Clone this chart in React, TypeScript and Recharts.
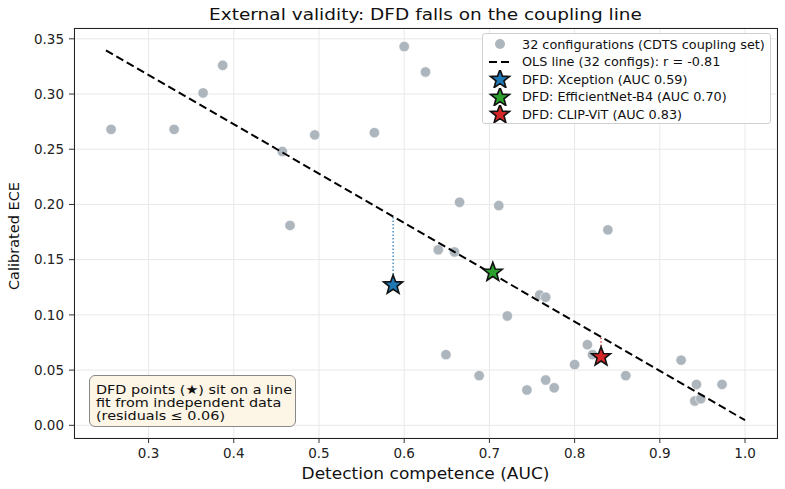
import React from "react";
import { ScatterChart, Scatter, XAxis, YAxis, CartesianGrid, ReferenceLine } from "recharts";

// 32 configurations (CDTS coupling set)
const configAuc = [
  0.256, 0.33, 0.364, 0.387, 0.457, 0.466, 0.495, 0.565, 0.6, 0.625, 0.64, 0.649, 0.659, 0.665, 0.688, 0.711,
  0.721, 0.744, 0.759, 0.766, 0.766, 0.776, 0.8, 0.815, 0.821, 0.839, 0.86, 0.925, 0.941, 0.943, 0.948, 0.973,
];
const configEce = [
  0.268, 0.268, 0.301, 0.326, 0.248, 0.181, 0.263, 0.265, 0.343, 0.32, 0.159, 0.064, 0.157, 0.202, 0.045, 0.199,
  0.099, 0.032, 0.118, 0.116, 0.041, 0.034, 0.055, 0.073, 0.064, 0.177, 0.045, 0.059, 0.022, 0.037, 0.024, 0.037,
];

// OLS fit line endpoints
const olsAuc = [0.25, 1.0];
const olsEce = [0.3396, 0.0046];

// DFD detectors
const dfdNames = ["DFD: Xception (AUC 0.59)", "DFD: EfficientNet-B4 (AUC 0.70)", "DFD: CLIP-ViT (AUC 0.83)"];
const dfdAuc = [0.587, 0.704, 0.831];
const dfdEce = [0.127, 0.1385, 0.062];
const dfdColors = ["#1f77b4", "#2ca02c", "#d62728"];

const xTicks = [0.3, 0.4, 0.5, 0.6, 0.7, 0.8, 0.9, 1.0];
const yTicks = [0.0, 0.05, 0.1, 0.15, 0.2, 0.25, 0.3, 0.35];

const FONT = "'DejaVu Sans', sans-serif";
const GRAY = "#adb5bd";

const configData = configAuc.map((x, i) => ({ x, y: configEce[i] }));
const olsData = olsAuc.map((x, i) => ({ x, y: olsEce[i] }));
const olsAt = (x: number) =>
  olsEce[0] + ((olsEce[1] - olsEce[0]) * (x - olsAuc[0])) / (olsAuc[1] - olsAuc[0]);

function starPath(cx: number, cy: number, R: number, r: number) {
  const pts: string[] = [];
  for (let i = 0; i < 10; i++) {
    const rad = i % 2 === 0 ? R : r;
    const a = -Math.PI / 2 + (i * Math.PI) / 5;
    pts.push(`${(cx + rad * Math.cos(a)).toFixed(2)},${(cy + rad * Math.sin(a)).toFixed(2)}`);
  }
  return "M" + pts.join("L") + "Z";
}

const Star = (color: string) => (props: any) =>
  <path d={starPath(props.cx, props.cy, 10, 4.2)} fill={color} stroke="#111" strokeWidth={1.6} strokeLinejoin="miter" />;

const Dot = (props: any) => <circle cx={props.cx} cy={props.cy} r={5.2} fill={GRAY} stroke="#fff" strokeWidth={0.6} />;

const tickStyle = { fontSize: 13.5, fill: "#222", fontFamily: FONT };

export default function App() {
  return (
    <div style={{ position: "absolute", left: 0, top: 0, width: 785, height: 489, background: "#fff", fontFamily: FONT }}>
      <ScatterChart width={785} height={489} margin={{ top: 28, right: 8, bottom: 0, left: 0 }}>
        <CartesianGrid stroke="#e8e8e8" strokeWidth={1} />
        <XAxis
          type="number"
          dataKey="x"
          domain={[0.2125, 1.0375]}
          ticks={xTicks}
          tickFormatter={(v: number) => v.toFixed(1)}
          height={51}
          axisLine={false}
          tickSize={5}
          tickMargin={5}
          tickLine={{ stroke: "#333" }}
          tick={tickStyle}
          allowDataOverflow
        />
        <YAxis
          type="number"
          dataKey="y"
          domain={[-0.0115, 0.3598]}
          ticks={yTicks}
          tickFormatter={(v: number) => v.toFixed(2)}
          width={74}
          axisLine={false}
          tickSize={5}
          tickMargin={5}
          tickLine={{ stroke: "#333" }}
          tick={tickStyle}
          allowDataOverflow
        />
        <Scatter data={configData} shape={Dot} isAnimationActive={false} />
        {dfdAuc.map((x, i) => (
          <ReferenceLine
            key={"res" + i}
            segment={[{ x, y: dfdEce[i] }, { x, y: olsAt(x) }]}
            stroke={dfdColors[i]}
            strokeWidth={1.2}
            strokeDasharray="1.5 2"
          />
        ))}
        <Scatter
          data={olsData}
          line={{ stroke: "#000", strokeWidth: 2, strokeDasharray: "8 4" }}
          shape={() => <g />}
          isAnimationActive={false}
        />
        {dfdAuc.map((x, i) => (
          <Scatter
            key={"dfd" + i}
            data={[{ x, y: dfdEce[i] }]}
            shape={Star(dfdColors[i])}
            isAnimationActive={false}
          />
        ))}
      </ScatterChart>

      {/* spines */}
      <div style={{ position: "absolute", left: 74, top: 28, width: 702, height: 409, border: "1px solid #222", pointerEvents: "none" }} />

      {/* title */}
      <div
        style={{
          position: "absolute",
          left: 74,
          width: 703,
          top: 14,
          transform: "translateY(-50%) scaleY(0.88)",
          textAlign: "center",
          fontSize: 18.5,
          color: "#111",
          whiteSpace: "nowrap",
        }}
      >
        External validity: DFD falls on the coupling line
      </div>

      {/* x label */}
      <div
        style={{
          position: "absolute",
          left: 74,
          width: 703,
          top: 474,
          transform: "translateY(-50%) scaleY(0.88)",
          textAlign: "center",
          fontSize: 17,
          color: "#111",
          whiteSpace: "nowrap",
        }}
      >
        Detection competence (AUC)
      </div>

      {/* y label */}
      <div
        style={{
          position: "absolute",
          left: 14,
          top: 236,
          transform: "translate(-50%, -50%) rotate(-90deg)",
          fontSize: 14.5,
          color: "#111",
          whiteSpace: "nowrap",
        }}
      >
        Calibrated ECE
      </div>

      {/* legend */}
      <div
        style={{
          position: "absolute",
          left: 482,
          top: 33,
          width: 287,
          height: 89,
          border: "1px solid #d0d0d0",
          borderRadius: 3,
          background: "rgba(255,255,255,0.85)",
          fontSize: 12.8,
          color: "#111",
        }}
      >
        {[
          { label: "32 configurations (CDTS coupling set)", kind: "dot", color: GRAY },
          { label: "OLS line (32 configs): r = -0.81", kind: "line", color: "#000" },
          ...dfdNames.map((n, i) => ({ label: n, kind: "star", color: dfdColors[i] })),
        ].map((e, i) => (
          <div key={i} style={{ position: "absolute", left: 0, top: 1 + i * 17.6, height: 18, display: "flex", alignItems: "center" }}>
            <svg width={38} height={18} style={{ display: "block" }}>
              {e.kind === "dot" && <circle cx={17} cy={9} r={5} fill={e.color} />}
              {e.kind === "line" && <line x1={6} y1={9} x2={30} y2={9} stroke="#000" strokeWidth={2} strokeDasharray="8 4" />}
              {e.kind === "star" && <path d={starPath(17, 9.5, 10, 4.2)} fill={e.color} stroke="#111" strokeWidth={1.6} />}
            </svg>
            <span style={{ whiteSpace: "nowrap", marginLeft: 1 }}>{e.label}</span>
          </div>
        ))}
      </div>

      {/* annotation */}
      <div
        style={{
          position: "absolute",
          left: 89,
          top: 375,
          width: 205,
          height: 50,
          border: "1px solid #888",
          borderRadius: 6,
          background: "#fdf5e6",
        }}
      >
        <div
          style={{
            position: "absolute",
            left: 6,
            top: 7,
            transformOrigin: "0 0",
            transform: "scaleY(0.88)",
            fontSize: 14.4,
            lineHeight: "14.8px",
            color: "#111",
            whiteSpace: "nowrap",
          }}
        >
          DFD points (★) sit on a line
          <br />
          fit from independent data
          <br />
          (residuals ≤ 0.06)
        </div>
      </div>
    </div>
  );
}
